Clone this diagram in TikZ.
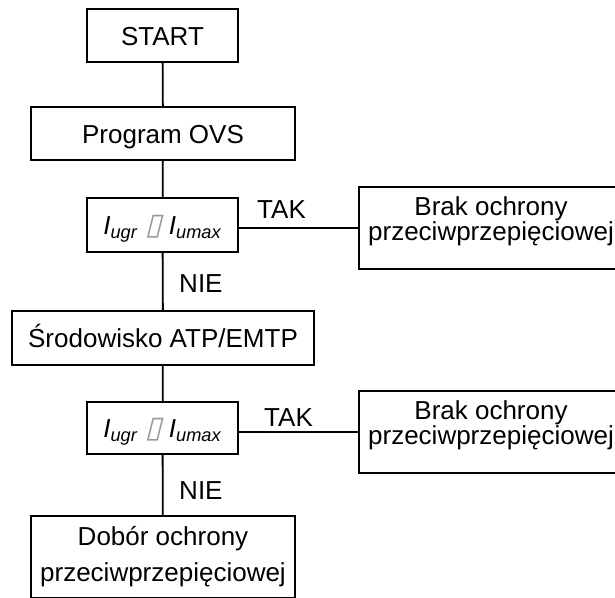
\documentclass[tikz,border=0pt]{standalone}
\usepackage{fontspec}
\setmainfont{Liberation Sans}
\newfontfamily\symbfont[FakeSlant=0.25]{DejaVu Sans}

\begin{document}
\begin{tikzpicture}[x=1pt, y=-1pt, line width=1.8pt,
    every node/.style={font=\fontsize{26}{25}\selectfont},
    blok/.style={draw, inner sep=0pt, minimum height=53pt,
      text height=19pt, text depth=0pt},
    dwa/.style={draw, inner sep=0pt, align=center, minimum width=264pt,
      minimum height=82pt}]

  \useasboundingbox (0, 0) rectangle (615, 597);

  \def\warunek{\textit{I}\textsubscript{\textit{ugr}} %
    {\symbfont\fontsize{30}{30}\selectfont\color{black!40}▯} %
    \textit{I}\textsubscript{\textit{umax}}}

  % main column
  \node[blok, minimum width=151pt] (start) at (162.5, 35.5) {START};
  \node[blok, minimum width=264pt] (ovs) at (163, 133.5) {Program OVS};
  \node[blok, minimum width=151pt, minimum height=54pt] (war1) at (162.5, 225) {\warunek};
  \node[blok, minimum width=302pt, minimum height=54pt] (atp) at (163, 338) {Środowisko ATP/EMTP};
  \node[blok, minimum width=151pt, minimum height=52pt] (war2) at (162.5, 428) {\warunek};
  \node[dwa, font=\fontsize{26}{36}\selectfont] (dobor) at (163, 557)
    {Dobór ochrony\\przeciwprzepięciowej};

  % side boxes
  \node[dwa] (brak1) at (491, 228)
    {Brak ochrony\\przeciwprzepięciowej\rule[-18pt]{0pt}{0pt}};
  \node[dwa] (brak2) at (491, 432)
    {Brak ochrony\\przeciwprzepięciowej\rule[-18pt]{0pt}{0pt}};

  \draw (start) -- (ovs);
  \draw (ovs) -- (war1);
  \draw (war1) -- (atp);
  \draw (atp) -- (war2);
  \draw (war2) -- (dobor);
  \draw (brak1.west -| war1.east) -- (brak1.west);
  \draw (brak2.west -| war2.east) -- (brak2.west);

  \node[anchor=base west] (tak1) at (253, 218) {TAK};
  \node[anchor=base west] (tak2) at (260, 426) {TAK};
  \node[anchor=base west] (nie1) at (175, 292) {NIE};
  \node[anchor=base west] (nie2) at (175, 499) {NIE};

\end{tikzpicture}
\end{document}
